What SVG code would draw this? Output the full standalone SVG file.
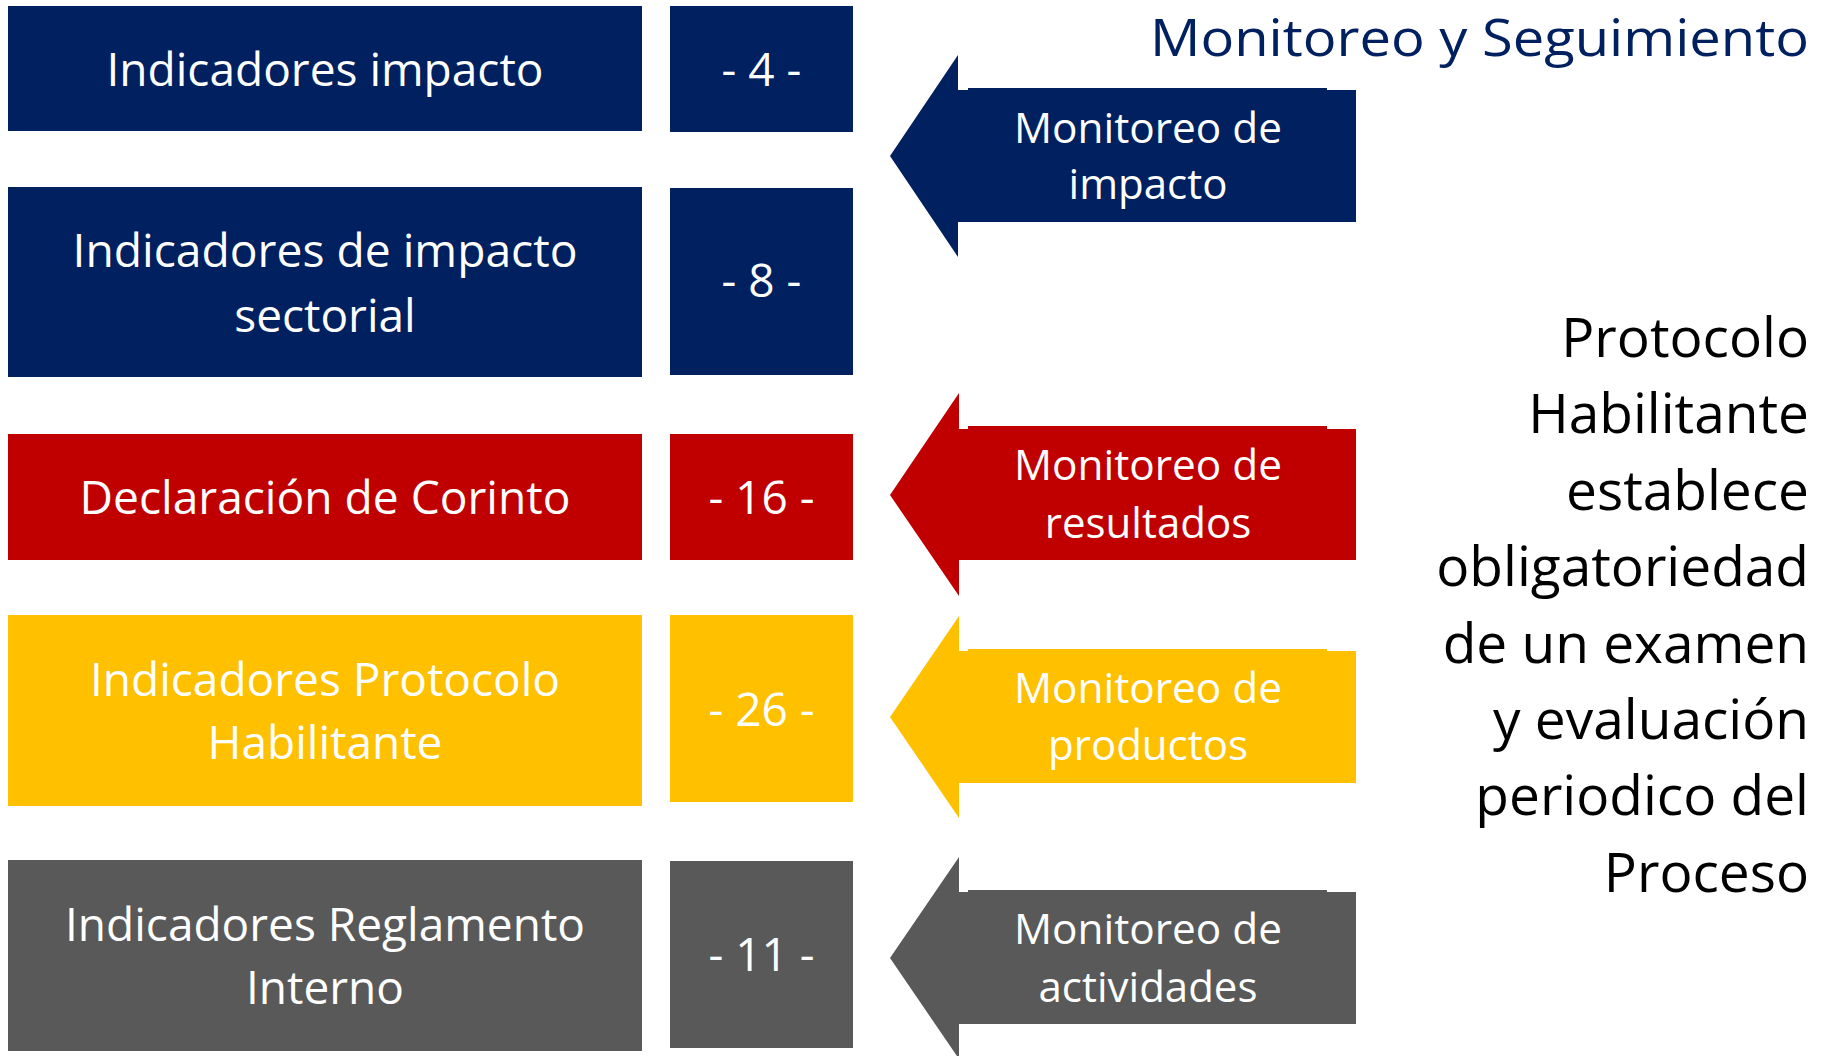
<svg xmlns="http://www.w3.org/2000/svg" width="1824" height="1056" viewBox="0 0 1824 1056">
<style>
.navy{fill:#002060}
.red{fill:#C00000}
.yellow{fill:#FFC000}
.gray{fill:#595959}
.lbl{font-family:"Open Sans","Noto Sans","Liberation Sans",sans-serif;fill:#FFFFFF;font-size:46px;text-anchor:middle}
.arr{font-family:"Open Sans","Noto Sans","Liberation Sans",sans-serif;fill:#FFFFFF;font-size:42px;text-anchor:middle}
.side{font-family:"Open Sans","Noto Sans","Liberation Sans",sans-serif;fill:#000000;font-size:55px;text-anchor:end}
.title{font-family:"Open Sans","Noto Sans","Liberation Sans",sans-serif;fill:#002060;font-size:52px;text-anchor:end}
</style>
<rect width="1824" height="1056" fill="#FFFFFF"/>

<g id="ind-impacto">
<rect class="navy" x="8" y="6" width="634" height="125"/>
<text class="lbl" x="325" y="86" textLength="437" lengthAdjust="spacingAndGlyphs">Indicadores impacto</text>
</g>
<g id="num-4">
<rect class="navy" x="670" y="6" width="183" height="126"/>
<text class="lbl" x="761.5" y="86">- 4 -</text>
</g>

<g id="ind-impacto-sectorial">
<rect class="navy" x="8" y="187" width="634" height="190"/>
<text class="lbl" x="325" y="267" textLength="505" lengthAdjust="spacingAndGlyphs">Indicadores de impacto</text>
<text class="lbl" x="325" y="332">sectorial</text>
</g>
<g id="num-8">
<rect class="navy" x="670" y="188" width="183" height="187"/>
<text class="lbl" x="761.5" y="297">- 8 -</text>
</g>

<g id="declaracion-corinto">
<rect class="red" x="8" y="434" width="634" height="126"/>
<text class="lbl" x="325" y="514" textLength="491" lengthAdjust="spacingAndGlyphs">Declaración de Corinto</text>
</g>
<g id="num-16">
<rect class="red" x="670" y="434" width="183" height="126"/>
<text class="lbl" x="761.5" y="514">- 16 -</text>
</g>

<g id="ind-protocolo">
<rect class="yellow" x="8" y="615" width="634" height="191"/>
<text class="lbl" x="325" y="696" textLength="470" lengthAdjust="spacingAndGlyphs">Indicadores Protocolo</text>
<text class="lbl" x="325" y="759">Habilitante</text>
</g>
<g id="num-26">
<rect class="yellow" x="670" y="615" width="183" height="187"/>
<text class="lbl" x="761.5" y="726">- 26 -</text>
</g>

<g id="ind-reglamento">
<rect class="gray" x="8" y="860" width="634" height="191"/>
<text class="lbl" x="325" y="941" textLength="520" lengthAdjust="spacingAndGlyphs">Indicadores Reglamento</text>
<text class="lbl" x="325" y="1004">Interno</text>
</g>
<g id="num-11">
<rect class="gray" x="670" y="861" width="183" height="187"/>
<text class="lbl" x="761.5" y="971">- 11 -</text>
</g>

<g id="connectors">
<g id="arrow-impacto">
<polygon class="navy" points="890,156 958,55 958,90 1356,90 1356,222 958,222 958,257"/>
<rect class="navy" x="968" y="88" width="359" height="100"/>
<text class="arr" x="1148" y="143" textLength="268" lengthAdjust="spacingAndGlyphs">Monitoreo de</text>
<text class="arr" x="1148" y="199">impacto</text>
</g>
<g id="arrow-resultados">
<polygon class="red" points="890,495 959,393 959,429 1356,429 1356,560 959,560 959,596"/>
<rect class="red" x="968" y="426" width="359" height="100"/>
<text class="arr" x="1148" y="480" textLength="268" lengthAdjust="spacingAndGlyphs">Monitoreo de</text>
<text class="arr" x="1148" y="538">resultados</text>
</g>
<g id="arrow-productos">
<polygon class="yellow" points="890,717 959,616 959,651 1356,651 1356,783 959,783 959,818"/>
<rect class="yellow" x="968" y="649" width="359" height="100"/>
<text class="arr" x="1148" y="703" textLength="268" lengthAdjust="spacingAndGlyphs">Monitoreo de</text>
<text class="arr" x="1148" y="760">productos</text>
</g>
<g id="arrow-actividades">
<polygon class="gray" points="890,958 959,857 959,892 1356,892 1356,1024 959,1024 959,1059"/>
<rect class="gray" x="968" y="890" width="359" height="100"/>
<text class="arr" x="1148" y="944" textLength="268" lengthAdjust="spacingAndGlyphs">Monitoreo de</text>
<text class="arr" x="1148" y="1002">actividades</text>
</g>
</g>

<g id="title">
<text class="title" x="1809" y="56" textLength="659" lengthAdjust="spacingAndGlyphs">Monitoreo y Seguimiento</text>
</g>

<g id="side-note">
<text class="side" x="1809" y="357">Protocolo</text>
<text class="side" x="1809" y="433">Habilitante</text>
<text class="side" x="1809" y="510">establece</text>
<text class="side" x="1809" y="586">obligatoriedad</text>
<text class="side" x="1809" y="663">de un examen</text>
<text class="side" x="1809" y="739">y evaluación</text>
<text class="side" x="1809" y="815">periodico del</text>
<text class="side" x="1809" y="892">Proceso</text>
</g>
</svg>
